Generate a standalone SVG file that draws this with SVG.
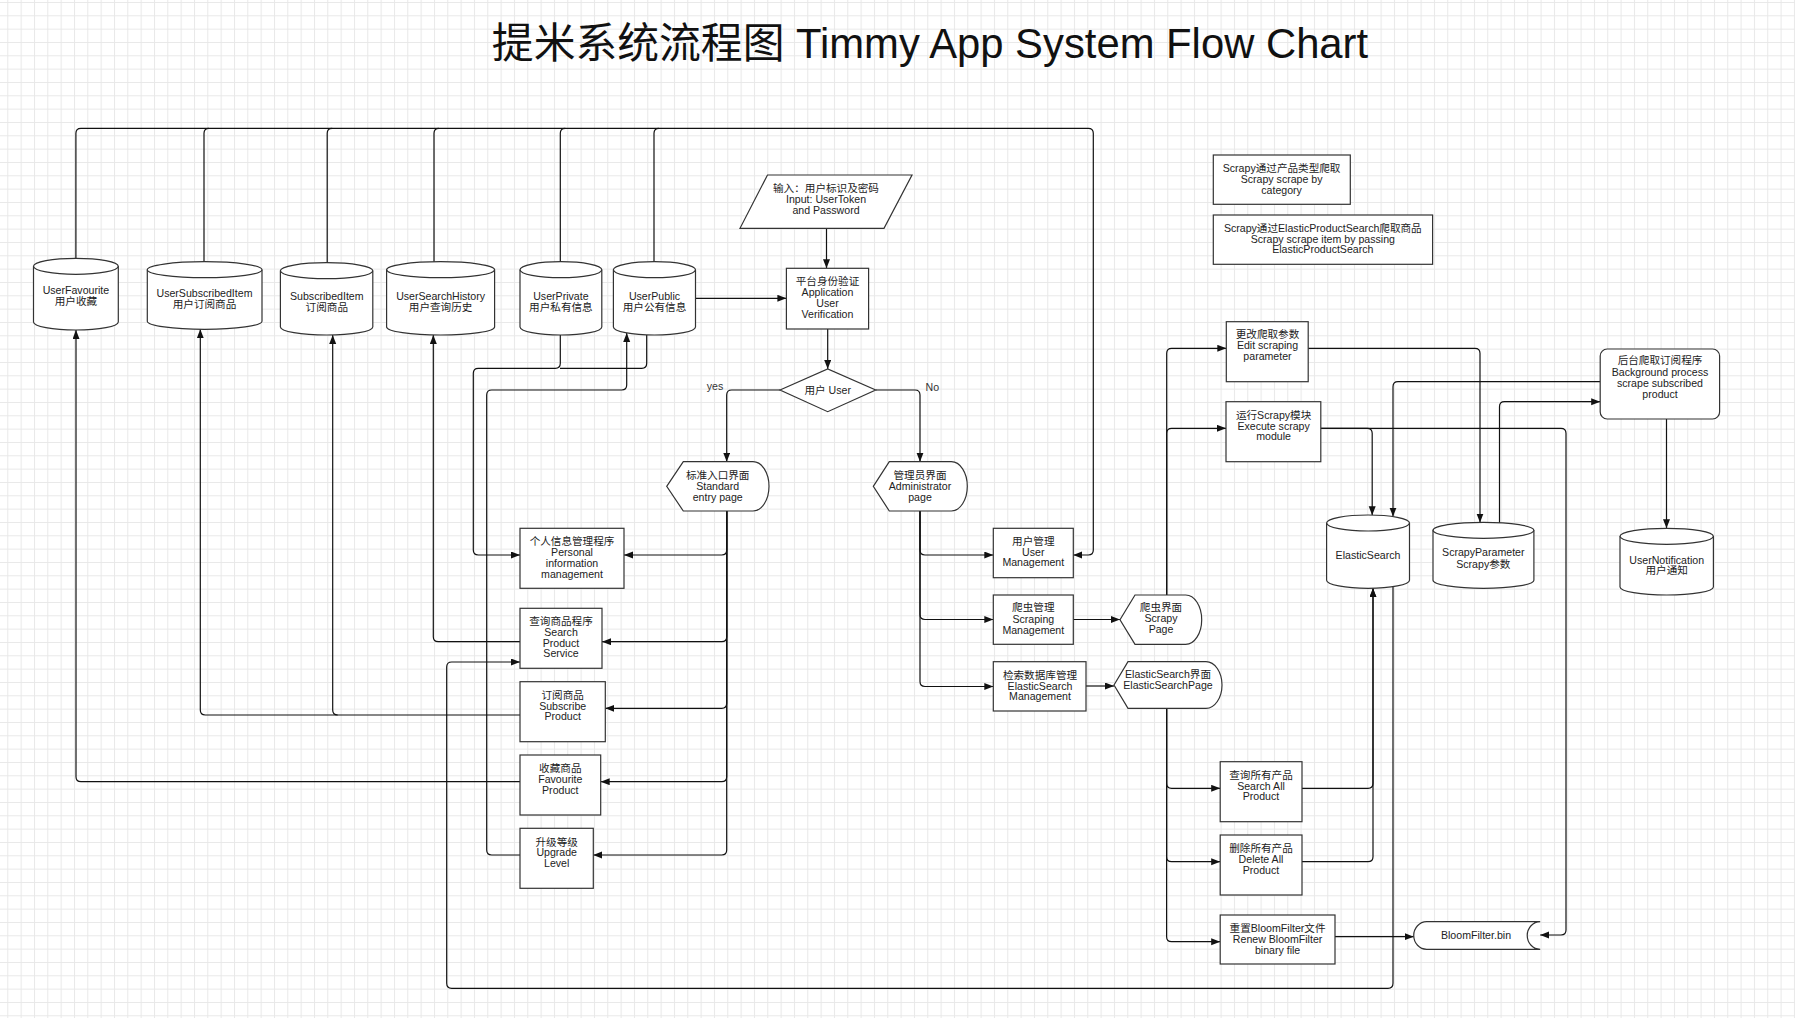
<svg xmlns="http://www.w3.org/2000/svg" width="1795" height="1018" viewBox="0 0 1795 1018">
<defs>
<pattern id="grid" width="13.333" height="13.333" patternUnits="userSpaceOnUse" x="7.3" y="2">
<path d="M0.5,0 V13.333 M0,0.5 H13.333" fill="none" stroke="#e8e8e8" stroke-width="1"/>
</pattern>
<marker id="ah" markerWidth="10" markerHeight="8" refX="9" refY="3.5" orient="auto" markerUnits="userSpaceOnUse">
<path d="M0,0 L9,3.5 L0,7 Z" fill="#111"/>
</marker>
<style>
.n{fill:#fff;stroke:#333;stroke-width:1.2}
.t{font-family:"Liberation Sans","Noto Sans CJK SC",sans-serif;font-size:10.6px;fill:#222;text-anchor:middle}
.c{fill:none;stroke:#111;stroke-width:1.2}
.a{marker-end:url(#ah)}
.lbl{font-family:"Liberation Sans","Noto Sans CJK SC",sans-serif;font-size:10.6px;fill:#333;text-anchor:middle}
</style>
</defs>
<rect x="0" y="0" width="1795" height="1018" fill="#fff"/>
<rect x="0" y="0" width="1795" height="1018" fill="url(#grid)"/>

<text x="930" y="58" style="font-family:'Liberation Sans','Noto Sans CJK SC',sans-serif;font-size:41.8px;fill:#111;text-anchor:middle">提米系统流程图 Timmy App System Flow Chart</text>

<g id="connectors">
<path class="c a" d="M75.9,258.3 L75.9,133.3 Q75.9,128.3 80.9,128.3 L1088.3,128.3 Q1093.3,128.3 1093.3,133.3 L1093.3,550 Q1093.3,555 1088.3,555 L1073.3,555"/>
<path class="c" d="M204,261.7 L204,133.3 Q204,128.3 209,128.3"/>
<path class="c" d="M327.2,262.7 L327.2,133.3 Q327.2,128.3 332.2,128.3"/>
<path class="c" d="M434,261.7 L434,133.3 Q434,128.3 439,128.3"/>
<path class="c" d="M560.3,261.7 L560.3,133.3 Q560.3,128.3 565.3,128.3"/>
<path class="c" d="M654,261.7 L654,133.3 Q654,128.3 659,128.3"/>
<path class="c a" d="M826.5,228.3 L826.5,268.3"/>
<path class="c a" d="M695.5,298.3 L786.4,298.3"/>
<path class="c a" d="M827.7,329 L827.7,369"/>
<path class="c a" d="M780,390 L731.7,390 Q726.7,390 726.7,395 L726.7,461.7"/>
<path class="c a" d="M875.7,390 L915,390 Q920,390 920,395 L920,461.7"/>
<path class="c a" d="M726.7,511 L726.7,550 Q726.7,555 721.7,555 L624,555"/>
<path class="c a" d="M726.7,511 L726.7,636.7 Q726.7,641.7 721.7,641.7 L602,641.7"/>
<path class="c a" d="M726.7,511 L726.7,703.3 Q726.7,708.3 721.7,708.3 L605.3,708.3"/>
<path class="c a" d="M726.7,511 L726.7,776.7 Q726.7,781.7 721.7,781.7 L600.7,781.7"/>
<path class="c a" d="M726.7,511 L726.7,850 Q726.7,855 721.7,855 L593.3,855"/>
<path class="c a" d="M920,511 L920,550 Q920,555 925,555 L993.3,555"/>
<path class="c a" d="M920,511 L920,614.5 Q920,619.5 925,619.5 L993.3,619.5"/>
<path class="c a" d="M920,511 L920,681.5 Q920,686.5 925,686.5 L993.3,686.5"/>
<path class="c a" d="M1073.3,619.5 L1120,619.5"/>
<path class="c a" d="M1086,686 L1114,686"/>
<path class="c a" d="M1166.7,595 L1166.7,353.3 Q1166.7,348.3 1171.7,348.3 L1226.3,348.3"/>
<path class="c a" d="M1166.7,595 L1166.7,433.3 Q1166.7,428.3 1171.7,428.3 L1226,428.3"/>
<path class="c a" d="M1166.6,708.3 L1166.6,783.3 Q1166.6,788.3 1171.6,788.3 L1220.2,788.3"/>
<path class="c a" d="M1166.6,708.3 L1166.6,856.7 Q1166.6,861.7 1171.6,861.7 L1220.2,861.7"/>
<path class="c a" d="M1166.6,708.3 L1166.6,936.7 Q1166.6,941.7 1171.6,941.7 L1220.2,941.7"/>
<path class="c a" d="M1302,788.3 L1368,788.3 Q1373,788.3 1373,783.3 L1373,588.3"/>
<path class="c a" d="M1302,861.7 L1368,861.7 Q1373,861.7 1373,856.7 L1373,588.3"/>
<path class="c a" d="M1393,586.5 L1393,983.3 Q1393,988.3 1388,988.3 L451.7,988.3 Q446.7,988.3 446.7,983.3 L446.7,667 Q446.7,662 451.7,662 L520,662"/>
<path class="c a" d="M1308.2,348.3 L1475,348.3 Q1480,348.3 1480,353.3 L1480,522.5"/>
<path class="c a" d="M1499.5,524 L1499.5,406.7 Q1499.5,401.7 1504.5,401.7 L1600.2,401.7"/>
<path class="c a" d="M1600.2,381.7 L1398,381.7 Q1393,381.7 1393,386.7 L1393,516.6"/>
<path class="c a" d="M1320.8,428.3 L1367.2,428.3 Q1372.2,428.3 1372.2,433.3 L1372.2,515.3"/>
<path class="c a" d="M1320.8,428.3 L1561,428.3 Q1566,428.3 1566,433.3 L1566,930 Q1566,935 1561,935 L1540.2,935"/>
<path class="c a" d="M1666.5,419 L1666.5,528.3"/>
<path class="c a" d="M1335,936.7 L1413.7,936.7"/>
<path class="c a" d="M560.3,335 L560.3,363.3 Q560.3,368.3 555.3,368.3 L478.3,368.3 Q473.3,368.3 473.3,373.3 L473.3,550 Q473.3,555 478.3,555 L520,555"/>
<path class="c" d="M646.7,334.8 L646.7,363.3 Q646.7,368.3 641.7,368.3 L560,368.3"/>
<path class="c a" d="M520,855 L491.7,855 Q486.7,855 486.7,850 L486.7,395 Q486.7,390 491.7,390 L621.7,390 Q626.7,390 626.7,385 L626.7,333"/>
<path class="c a" d="M520,641.7 L438.3,641.7 Q433.3,641.7 433.3,636.7 L433.3,335"/>
<path class="c a" d="M520,715 L205.3,715 Q200.3,715 200.3,710 L200.3,329.3"/>
<path class="c a" d="M337.7,715 Q332.7,715 332.7,710 L332.7,335"/>
<path class="c a" d="M520,781.7 L81,781.7 Q76,781.7 76,776.7 L76,330"/>
<text class="lbl" x="715" y="389.5">yes</text>
<text class="lbl" x="932.3" y="391.4">No</text>
</g>

<g id="UserFavourite">
<path class="n" d="M33.5,266.3 L33.5,322 A42.4,8 0 0 0 118.3,322 L118.3,266.3 A42.4,8 0 0 0 33.5,266.3 Z"/>
<path class="n" style="fill:none" d="M33.5,266.3 A42.4,8 0 0 0 118.3,266.3"/>
<text class="t"><tspan x="75.9" y="294.4">UserFavourite</tspan><tspan x="75.9" y="305.4">用户收藏</tspan></text>
</g>
<g id="UserSubscribedItem">
<path class="n" d="M147.3,269.7 L147.3,321.3 A57.35,8 0 0 0 262,321.3 L262,269.7 A57.35,8 0 0 0 147.3,269.7 Z"/>
<path class="n" style="fill:none" d="M147.3,269.7 A57.35,8 0 0 0 262,269.7"/>
<text class="t"><tspan x="204.5" y="297">UserSubscribedItem</tspan><tspan x="204.5" y="307.7">用户订阅商品</tspan></text>
</g>
<g id="SubscribedItem">
<path class="n" d="M280.4,270.7 L280.4,327 A46.2,8 0 0 0 372.8,327 L372.8,270.7 A46.2,8 0 0 0 280.4,270.7 Z"/>
<path class="n" style="fill:none" d="M280.4,270.7 A46.2,8 0 0 0 372.8,270.7"/>
<text class="t"><tspan x="326.8" y="300.4">SubscribedItem</tspan><tspan x="326.8" y="311">订阅商品</tspan></text>
</g>
<g id="UserSearchHistory">
<path class="n" d="M386.6,269.7 L386.6,327 A54,8 0 0 0 494.6,327 L494.6,269.7 A54,8 0 0 0 386.6,269.7 Z"/>
<path class="n" style="fill:none" d="M386.6,269.7 A54,8 0 0 0 494.6,269.7"/>
<text class="t"><tspan x="440.6" y="300.4">UserSearchHistory</tspan><tspan x="440.6" y="311">用户查询历史</tspan></text>
</g>
<g id="UserPrivate">
<path class="n" d="M520,269.7 L520,327 A40.9,8 0 0 0 601.8,327 L601.8,269.7 A40.9,8 0 0 0 520,269.7 Z"/>
<path class="n" style="fill:none" d="M520,269.7 A40.9,8 0 0 0 601.8,269.7"/>
<text class="t"><tspan x="560.9" y="300.4">UserPrivate</tspan><tspan x="560.9" y="311">用户私有信息</tspan></text>
</g>
<g id="UserPublic">
<path class="n" d="M613.4,269.7 L613.4,327 A41.05,8 0 0 0 695.5,327 L695.5,269.7 A41.05,8 0 0 0 613.4,269.7 Z"/>
<path class="n" style="fill:none" d="M613.4,269.7 A41.05,8 0 0 0 695.5,269.7"/>
<text class="t"><tspan x="654.5" y="300.4">UserPublic</tspan><tspan x="654.5" y="311">用户公有信息</tspan></text>
</g>
<g id="ElasticSearch">
<path class="n" d="M1326.6,523 L1326.6,580.3 A41.45,8 0 0 0 1409.5,580.3 L1409.5,523 A41.45,8 0 0 0 1326.6,523 Z"/>
<path class="n" style="fill:none" d="M1326.6,523 A41.45,8 0 0 0 1409.5,523"/>
<text class="t"><tspan x="1368" y="559.4">ElasticSearch</tspan></text>
</g>
<g id="ScrapyParameter">
<path class="n" d="M1433,530.3 L1433,580.3 A50.45,8 0 0 0 1533.9,580.3 L1533.9,530.3 A50.45,8 0 0 0 1433,530.3 Z"/>
<path class="n" style="fill:none" d="M1433,530.3 A50.45,8 0 0 0 1533.9,530.3"/>
<text class="t"><tspan x="1483.3" y="556.4">ScrapyParameter</tspan><tspan x="1483.3" y="567.7">Scrapy参数</tspan></text>
</g>
<g id="UserNotification">
<path class="n" d="M1620,536.3 L1620,587 A46.7,8 0 0 0 1713.4,587 L1713.4,536.3 A46.7,8 0 0 0 1620,536.3 Z"/>
<path class="n" style="fill:none" d="M1620,536.3 A46.7,8 0 0 0 1713.4,536.3"/>
<text class="t"><tspan x="1666.7" y="563.7">UserNotification</tspan><tspan x="1666.7" y="574.4">用户通知</tspan></text>
</g>

<g id="Input">
<path class="n" d="M767.5,175 L912,175 L884,228.3 L740,228.3 Z"/>
<text class="t"><tspan x="826" y="192">输入：用户标识及密码</tspan><tspan x="826" y="203">Input: UserToken</tspan><tspan x="826" y="214">and Password</tspan></text>
</g>
<g id="AppVerification">
<rect class="n" x="786.4" y="268.3" width="82.2" height="60.7"/>
<text class="t"><tspan x="827.5" y="285.4">平台身份验证</tspan><tspan x="827.5" y="296.4">Application</tspan><tspan x="827.5" y="307.4">User</tspan><tspan x="827.5" y="318">Verification</tspan></text>
</g>
<g id="UserDecision">
<path class="n" d="M780,390 L827.7,369 L875.7,390 L827.7,411.7 Z"/>
<text class="t"><tspan x="827.7" y="393.7">用户 User</tspan></text>
</g>
<g id="StandardEntryPage">
<path class="n" d="M666.7,486.3 L683.3,461.7 L753,461.7 A16,24.65 0 0 1 753,511 L683.3,511 Z"/>
<text class="t"><tspan x="717.7" y="478.7">标准入口界面</tspan><tspan x="717.7" y="489.7">Standard</tspan><tspan x="717.7" y="500.7">entry page</tspan></text>
</g>
<g id="AdminPage">
<path class="n" d="M873.3,486.3 L889.3,461.7 L951.3,461.7 A16,24.65 0 0 1 951.3,511 L889.3,511 Z"/>
<text class="t"><tspan x="920" y="478.7">管理员界面</tspan><tspan x="920" y="489.7">Administrator</tspan><tspan x="920" y="500.7">page</tspan></text>
</g>
<g id="PersonalInfo">
<rect class="n" x="520" y="528.3" width="104" height="60"/>
<text class="t"><tspan x="572" y="545.4">个人信息管理程序</tspan><tspan x="572" y="556.4">Personal</tspan><tspan x="572" y="567.4">information</tspan><tspan x="572" y="577.7">management</tspan></text>
</g>
<g id="SearchProduct">
<rect class="n" x="520" y="608.3" width="82" height="60"/>
<text class="t"><tspan x="561" y="625.4">查询商品程序</tspan><tspan x="561" y="636.4">Search</tspan><tspan x="561" y="646.7">Product</tspan><tspan x="561" y="657">Service</tspan></text>
</g>
<g id="SubscribeProduct">
<rect class="n" x="520" y="681.7" width="85.3" height="60"/>
<text class="t"><tspan x="562.7" y="698.7">订阅商品</tspan><tspan x="562.7" y="709.7">Subscribe</tspan><tspan x="562.7" y="720.4">Product</tspan></text>
</g>
<g id="FavouriteProduct">
<rect class="n" x="520" y="755" width="80.7" height="60"/>
<text class="t"><tspan x="560.3" y="772">收藏商品</tspan><tspan x="560.3" y="783">Favourite</tspan><tspan x="560.3" y="793.7">Product</tspan></text>
</g>
<g id="UpgradeLevel">
<rect class="n" x="520" y="828.3" width="73.3" height="60"/>
<text class="t"><tspan x="556.7" y="846">升级等级</tspan><tspan x="556.7" y="856.4">Upgrade</tspan><tspan x="556.7" y="867">Level</tspan></text>
</g>
<g id="UserManagement">
<rect class="n" x="993.3" y="528.3" width="80" height="49.4"/>
<text class="t"><tspan x="1033.3" y="545.4">用户管理</tspan><tspan x="1033.3" y="556.4">User</tspan><tspan x="1033.3" y="566.4">Management</tspan></text>
</g>
<g id="ScrapingManagement">
<rect class="n" x="993.3" y="595" width="80" height="49.3"/>
<text class="t"><tspan x="1033.3" y="611">爬虫管理</tspan><tspan x="1033.3" y="622.7">Scraping</tspan><tspan x="1033.3" y="633.7">Management</tspan></text>
</g>
<g id="ESManagement">
<rect class="n" x="993.3" y="661.7" width="92.7" height="49.3"/>
<text class="t"><tspan x="1040" y="678.7">检索数据库管理</tspan><tspan x="1040" y="689.7">ElasticSearch</tspan><tspan x="1040" y="700.4">Management</tspan></text>
</g>
<g id="ScrapyPage">
<path class="n" d="M1120,619.7 L1135,595 L1185.7,595 A16,24.65 0 0 1 1185.7,644.3 L1135,644.3 Z"/>
<text class="t"><tspan x="1161" y="611.2">爬虫界面</tspan><tspan x="1161" y="622.2">Scrapy</tspan><tspan x="1161" y="633.2">Page</tspan></text>
</g>
<g id="ESPage">
<path class="n" d="M1114,685 L1128,661.7 L1206,661.7 A16,23.3 0 0 1 1206,708.3 L1128,708.3 Z"/>
<text class="t"><tspan x="1168" y="678">ElasticSearch界面</tspan><tspan x="1168" y="689.4">ElasticSearchPage</tspan></text>
</g>
<g id="NoteByCategory">
<rect class="n" x="1213.3" y="155" width="137" height="49.3"/>
<text class="t"><tspan x="1281.6" y="172">Scrapy通过产品类型爬取</tspan><tspan x="1281.6" y="183">Scrapy scrape by</tspan><tspan x="1281.6" y="194.4">category</tspan></text>
</g>
<g id="NoteByES">
<rect class="n" x="1213.3" y="215" width="219.3" height="49.3"/>
<text class="t"><tspan x="1322.8" y="232">Scrapy通过ElasticProductSearch爬取商品</tspan><tspan x="1322.8" y="243">Scrapy scrape item by passing</tspan><tspan x="1322.8" y="253">ElasticProductSearch</tspan></text>
</g>
<g id="EditScrapingParameter">
<rect class="n" x="1226.3" y="321.7" width="81.9" height="60"/>
<text class="t"><tspan x="1267.5" y="338">更改爬取参数</tspan><tspan x="1267.5" y="349.4">Edit scraping</tspan><tspan x="1267.5" y="360.4">parameter</tspan></text>
</g>
<g id="ExecuteScrapy">
<rect class="n" x="1226" y="401.7" width="94.8" height="60"/>
<text class="t"><tspan x="1273.6" y="418.7">运行Scrapy模块</tspan><tspan x="1273.6" y="429.7">Execute scrapy</tspan><tspan x="1273.6" y="440.4">module</tspan></text>
</g>
<g id="BackgroundProcess">
<rect class="n" x="1600.2" y="349" width="119.4" height="70" rx="7" ry="7"/>
<text class="t"><tspan x="1660" y="364.4">后台爬取订阅程序</tspan><tspan x="1660" y="376">Background process</tspan><tspan x="1660" y="387">scrape subscribed</tspan><tspan x="1660" y="397.7">product</tspan></text>
</g>
<g id="SearchAllProduct">
<rect class="n" x="1220.2" y="761.7" width="81.8" height="60"/>
<text class="t"><tspan x="1261" y="778.7">查询所有产品</tspan><tspan x="1261" y="789.7">Search All</tspan><tspan x="1261" y="800.4">Product</tspan></text>
</g>
<g id="DeleteAllProduct">
<rect class="n" x="1220.2" y="835" width="81.8" height="60"/>
<text class="t"><tspan x="1261" y="852">删除所有产品</tspan><tspan x="1261" y="862.7">Delete All</tspan><tspan x="1261" y="873.7">Product</tspan></text>
</g>
<g id="RenewBloomFilter">
<rect class="n" x="1220.2" y="915" width="114.8" height="49"/>
<text class="t"><tspan x="1277.6" y="932">重置BloomFilter文件</tspan><tspan x="1277.6" y="943">Renew BloomFilter</tspan><tspan x="1277.6" y="953.7">binary file</tspan></text>
</g>
<g id="BloomFilterBin">
<path class="n" d="M1426.7,921.7 L1540.2,921.7 A13,13.8 0 0 0 1540.2,949.3 L1426.7,949.3 A13,13.8 0 0 1 1426.7,921.7 Z"/>
<text class="t"><tspan x="1476" y="938.7">BloomFilter.bin</tspan></text>
</g>
</svg>
